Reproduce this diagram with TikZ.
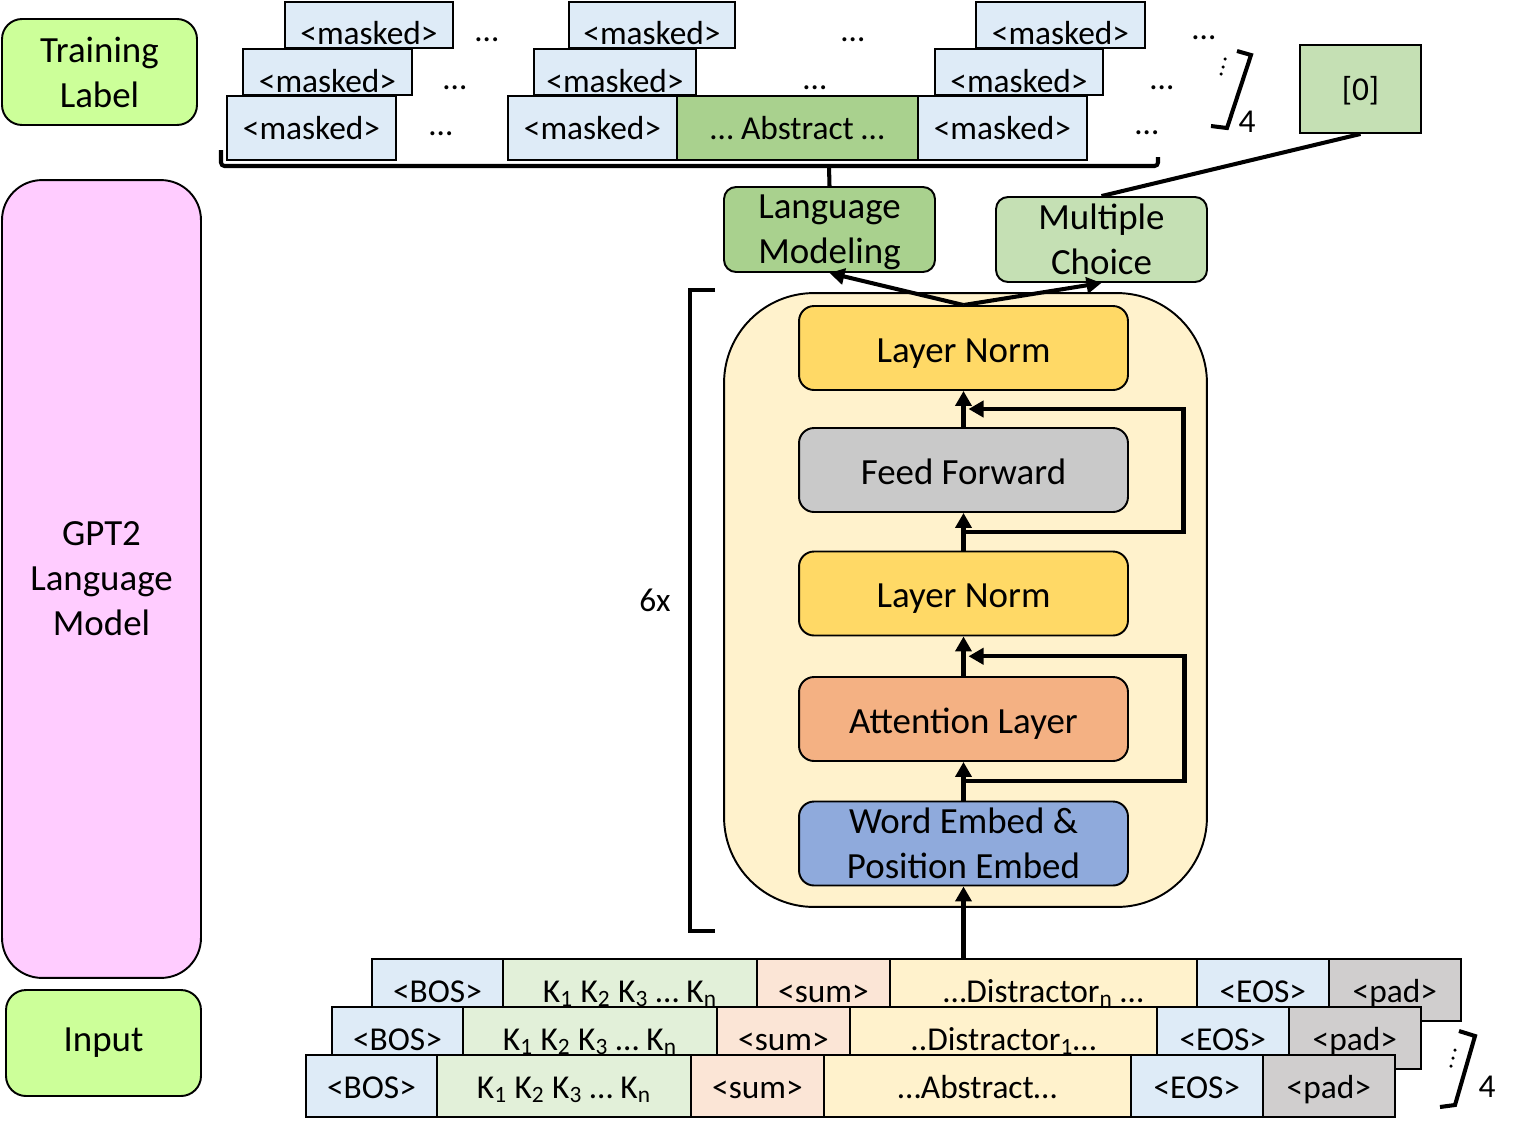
\documentclass[tikz,border=0pt]{standalone}
\usepackage{fontspec}
\setmainfont{Carlito}
\usepackage{tikz}
\usetikzlibrary{positioning}
\usetikzlibrary{arrows.meta}
\usetikzlibrary{calc}
\usepackage{xcolor}

\definecolor{labelgreen}{RGB}{204,255,153}
\definecolor{gptpink}{RGB}{255,204,255}
\definecolor{tokblue}{RGB}{222,235,247}
\definecolor{kgreen}{RGB}{226,240,217}
\definecolor{sumpeach}{RGB}{251,229,214}
\definecolor{textyellow}{RGB}{255,242,204}
\definecolor{padgray}{RGB}{208,206,206}
\definecolor{lmgreen}{RGB}{169,209,142}
\definecolor{mcgreen}{RGB}{197,224,180}
\definecolor{normyellow}{RGB}{255,217,102}
\definecolor{ffgray}{RGB}{201,201,201}
\definecolor{attnorange}{RGB}{244,177,131}
\definecolor{embblue}{RGB}{143,170,220}

\newcommand{\tokfont}{\fontsize{19}{22}\selectfont}
\newcommand{\bigfont}{\fontsize{21}{25.6}\selectfont}

\begin{document}
\begin{tikzpicture}[x=0.02cm, y=-0.02cm,
    side/.style={draw, line width=1.1pt, align=center, font=\bigfont, minimum width=3.9cm},
    head/.style={draw, line width=1.1pt, rounded corners=0.24cm, align=center, font=\bigfont,
        inner sep=0pt, minimum width=4.22cm, minimum height=1.7cm},
    layerbox/.style={draw, line width=1.1pt, rounded corners=0.3cm, align=center, font=\bigfont,
        inner sep=0pt, minimum width=6.58cm, minimum height=1.68cm},
    oneline/.style={text height=0.56cm, text depth=0cm},
    masktok/.style={draw, line width=1.1pt, fill=tokblue, inner sep=0pt, outer sep=0pt, font=\tokfont},
    maskback/.style={masktok, anchor=north west, text height=0.86cm, text depth=0.06cm},
    maskfront/.style={masktok, minimum height=1.28cm, text height=0.47cm, text depth=0cm},
    tok/.style={draw, line width=1.1pt, inner sep=0pt, outer sep=0pt, minimum height=1.24cm,
        text height=0.48cm, text depth=0cm, font=\tokfont},
    dots/.style={font=\tokfont, inner sep=0pt},
    arr/.style={line width=2.3pt, -{Triangle[length=0.3cm,width=0.32cm]}},
    bar/.style={line width=2.3pt}]
    \useasboundingbox (0,0) rectangle (1515,1127);

    % left column
    \node[side, fill=labelgreen, rounded corners=0.4cm, minimum height=2.12cm] (trainlabel) at (99.5,72) {Training\\Label};
    \node[side, fill=gptpink, rounded corners=0.8cm, minimum width=3.98cm, minimum height=15.96cm] (gpt) at (101.5,579) {GPT2\\Language\\Model};
    \node[side, fill=labelgreen, rounded corners=0.4cm, minimum height=2.12cm] (input) at (103.5,1043) {Input};

    % training labels, back to front
    \node[maskback, minimum width=3.36cm] (m11) at (285,2) {<masked>};
    \node[maskback, minimum width=3.32cm] (m12) at (569,2) {<masked>};
    \node[maskback, minimum width=3.38cm] (m13) at (976,2) {<masked>};
    \node[dots] (d11) at (487,40) {…};
    \node[dots] (d12) at (853,40) {…};
    \node[dots] (d13) at (1204,38) {…};
    \node[maskback, minimum width=3.38cm] (m21) at (243,49) {<masked>};
    \node[maskback, minimum width=3.24cm] (m22) at (534,49) {<masked>};
    \node[maskback, minimum width=3.36cm] (m23) at (935,49) {<masked>};
    \node[dots] (d21) at (455,88) {…};
    \node[dots] (d22) at (815,88) {…};
    \node[dots] (d23) at (1162,88) {…};
    \node[maskfront, anchor=north west, minimum width=3.38cm] (m31) at (227,96) {<masked>};
    \node[maskfront, anchor=north west, minimum width=3.38cm] (m32) at (508,96) {<masked>};
    \node[maskfront, fill=lmgreen, minimum width=4.82cm, right=0pt of m32] (abs) {… Abstract …};
    \node[maskfront, minimum width=3.38cm, right=0pt of abs] (m33) {<masked>};
    \node[dots] (d31) at (441,134) {…};
    \node[dots] (d32) at (1147,133) {…};

    % stack of 4 (top)
    \fill (1225,59) circle (0.035cm) (1223,67) circle (0.035cm) (1221,74) circle (0.035cm);
    \draw[bar] (1237,51) -- (1251,55) -- (1227,128) -- (1211,126);
    \node[font=\tokfont] (fourtop) at (1247,122) {4};

    % brace under the labels
    \coordinate (braceL) at (221,150);
    \coordinate (braceR) at (1158,157);
    \coordinate (braceMid) at (829,166);
    \draw[bar, rounded corners=2pt] (braceL) -- (221,166) -- (1158,166) -- (braceR);

    \node[draw, line width=1.1pt, fill=mcgreen, minimum width=2.42cm, minimum height=1.76cm,
        text height=0.47cm, text depth=0cm, font=\tokfont] (zero) at (1360.5,89) {[0]};

    % heads
    \node[head, fill=lmgreen] (lm) at (829.5,229.5) {Language\\\smash{Modeling}};
    \node[head, fill=mcgreen] (mc) at (1101.5,239.5) {Multiple\\Choice};
    \draw[bar] (braceMid) -- (lm.north);
    \draw[bar] (zero.south) -- (mc.north);

    % transformer block
    \node[draw, line width=1.1pt, rounded corners=1.8cm, fill=textyellow, minimum width=9.66cm, minimum height=12.28cm] (block) at (965.5,600) {};
    \node[layerbox, oneline, fill=normyellow] (lnt) at (963.5,348) {Layer Norm};
    \node[layerbox, oneline, fill=ffgray] (ff) at (963.5,470) {Feed Forward};
    \node[layerbox, oneline, fill=normyellow] (lnb) at (963.5,593.5) {Layer Norm};
    \node[layerbox, oneline, fill=attnorange] (attn) at (963.5,719) {Attention Layer};
    \node[layerbox, fill=embblue] (emb) at (963.5,843.5) {Word Embed \&\\Position Embed};

    \draw[bar] (715,290) -- (690,290) -- (690,931) -- (715,931);
    \node[font=\tokfont] (six) at (655,600) {6x};

    % input sequences, back to front
    \node[tok, fill=tokblue, anchor=north west, minimum width=2.62cm] (bosA) at (372,959) {<BOS>};
    \node[tok, fill=kgreen, minimum width=5.08cm, right=0pt of bosA] (kA) {K\textsubscript{1} K\textsubscript{2} K\textsubscript{3} … K\textsubscript{n}};
    \node[tok, fill=sumpeach, minimum width=2.66cm, right=0pt of kA] (sumA) {<sum>};
    \node[tok, fill=textyellow, minimum width=6.14cm, right=0pt of sumA] (distA) {…Distractor\textsubscript{n} …};
    \node[tok, fill=tokblue, minimum width=2.64cm, right=0pt of distA] (eosA) {<EOS>};
    \node[tok, fill=padgray, minimum width=2.64cm, right=0pt of eosA] (padA) {<pad>};

    \node[tok, fill=tokblue, anchor=north west, minimum width=2.62cm] (bosB) at (332,1007) {<BOS>};
    \node[tok, fill=kgreen, minimum width=5.08cm, right=0pt of bosB] (kB) {K\textsubscript{1} K\textsubscript{2} K\textsubscript{3} … K\textsubscript{n}};
    \node[tok, fill=sumpeach, minimum width=2.66cm, right=0pt of kB] (sumB) {<sum>};
    \node[tok, fill=textyellow, minimum width=6.14cm, right=0pt of sumB] (distB) {..Distractor\textsubscript{1}…};
    \node[tok, fill=tokblue, minimum width=2.64cm, right=0pt of distB] (eosB) {<EOS>};
    \node[tok, fill=padgray, minimum width=2.64cm, right=0pt of eosB] (padB) {<pad>};

    \node[tok, fill=tokblue, anchor=north west, minimum width=2.62cm] (bosC) at (306,1055) {<BOS>};
    \node[tok, fill=kgreen, minimum width=5.08cm, right=0pt of bosC] (kC) {K\textsubscript{1} K\textsubscript{2} K\textsubscript{3} … K\textsubscript{n}};
    \node[tok, fill=sumpeach, minimum width=2.66cm, right=0pt of kC] (sumC) {<sum>};
    \node[tok, fill=textyellow, minimum width=6.14cm, right=0pt of sumC] (distC) {…Abstract…};
    \node[tok, fill=tokblue, minimum width=2.64cm, right=0pt of distC] (eosC) {<EOS>};
    \node[tok, fill=padgray, minimum width=2.64cm, right=0pt of eosC] (padC) {<pad>};

    % stack of 4 (bottom)
    \fill (1455,1050) circle (0.035cm) (1453,1058) circle (0.035cm) (1451,1066) circle (0.035cm);
    \draw[bar] (1459,1031) -- (1475,1036) -- (1455,1105) -- (1440,1107);
    \node[font=\tokfont] (fourbot) at (1487,1087) {4};

    % data flow
    \draw[arr] (emb.south |- distA.north) -- (emb.south);
    \draw[arr] (emb.north) -- (attn.south);
    \draw[arr] (attn.north) -- (lnb.south);
    \draw[arr] (lnb.north) -- (ff.south);
    \draw[arr] (ff.north) -- (lnt.south);
    \coordinate (resA) at ($(emb.north)!0.5!(attn.south)$);
    \coordinate (resAend) at ($(attn.north)!0.5!(lnb.south)$);
    \coordinate (resB) at ($(lnb.north)!0.5!(ff.south)$);
    \coordinate (resBend) at ($(ff.north)!0.5!(lnt.south)$);
    \draw[arr] (resA) -- ++(221,0) |- ([xshift=0.1cm]resAend);
    \draw[arr] (resB) -- ++(220,0) |- ([xshift=0.1cm]resBend);
    \draw[arr] (lnt.north) -- (lm.south);
    \draw[arr] (lnt.north) -- (mc.south);
\end{tikzpicture}
\end{document}
